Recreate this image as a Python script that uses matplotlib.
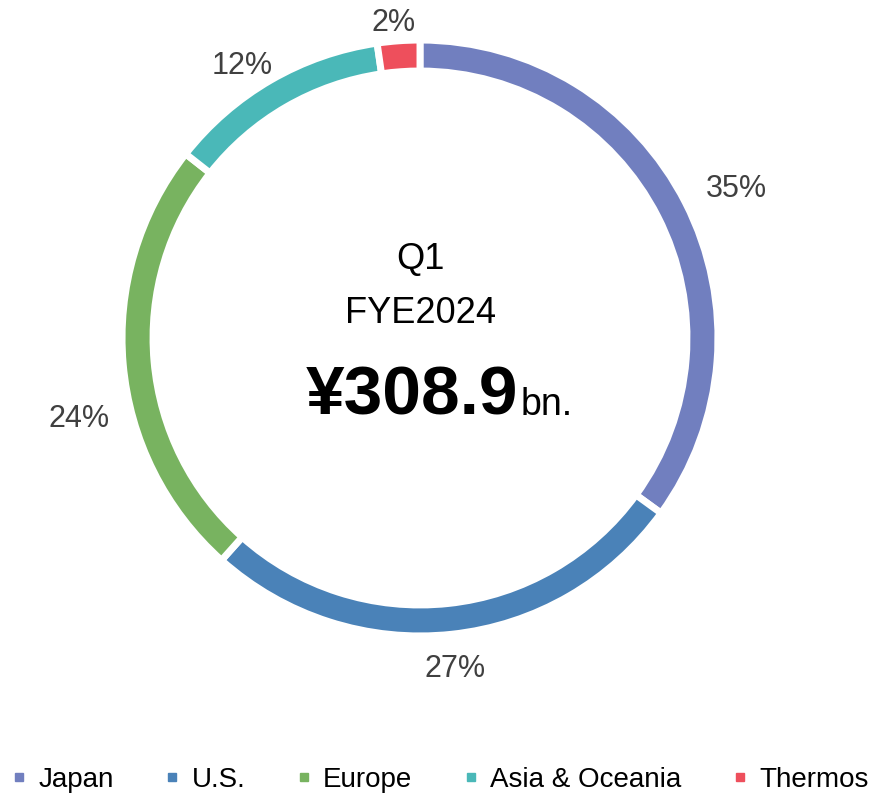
import matplotlib
matplotlib.use('Agg')
import matplotlib.pyplot as plt
import numpy as np
from matplotlib.lines import Line2D

plt.rcParams['font.family'] = ['Liberation Sans', 'DejaVu Sans']

regions = ['Japan', 'U.S.', 'Europe', 'Asia & Oceania', 'Thermos']
shares = [35.0, 26.6, 24.0, 12.1, 2.3]
colors = ['#717FBF', '#4A82B8', '#78B360', '#4AB8B8', '#EE4F5C']
quarter = 'Q1'
fiscal_year = 'FYE2024'
total = '¥308.9'
unit = 'bn.'

# 标签离圆心的距离（半径倍数）和角度微调（度）
label_dist = [1.187, 1.128, 1.188, 1.102, 1.073]
label_nudge = [-1.8, 0, 8.4, 3.1, 0.6]

W, H = 879, 794
cx, cy, R = 420, 338, 295  # 圆心和半径（像素）

fig = plt.figure(figsize=(W / 100, H / 100), dpi=100)
ax = fig.add_axes([0, 0, 1, 1])

wedges, _ = ax.pie(shares,
                   colors=colors,
                   startangle=90,
                   counterclock=False,
                   radius=1.01,
                   wedgeprops=dict(width=0.105, edgecolor='white', linewidth=5))

# 百分比标签放在圆环外侧
total_share = sum(shares)
start = 90.0
for val, d, nudge in zip(shares, label_dist, label_nudge):
    sweep = val / total_share * 360
    mid = np.deg2rad(start - sweep / 2 + nudge)
    start -= sweep
    ax.text(d * np.cos(mid), d * np.sin(mid), f'{round(val):.0f}%',
            ha='center', va='center', fontsize=22, color='#404040')

# 中间文字
ax.text(0, 0.265, quarter, ha='center', va='center', fontsize=26, color='black')
ax.text(0, 0.082, fiscal_year, ha='center', va='center', fontsize=26, color='black')
ax.text(0.332, -0.261, total, ha='right', va='baseline', fontsize=50,
        fontweight='bold', color='black')
ax.text(0.34, -0.261, unit, ha='left', va='baseline', fontsize=27, color='black')

ax.set_xlim(-cx / R, (W - cx) / R)
ax.set_ylim(-(H - cy) / R, cy / R)
ax.set_aspect('auto')
ax.axis('off')

handles = [Line2D([], [], marker='s', linestyle='none', markersize=6,
                  markerfacecolor=c, markeredgecolor=c) for c in colors]
fig.legend(handles, regions, loc='center', bbox_to_anchor=(0.5, 1 - 780 / H),
           ncol=5, frameon=False, fontsize=20, handletextpad=0.4,
           columnspacing=1.8, handlelength=0.6, borderpad=0, borderaxespad=0)

plt.savefig('out.png', dpi=100)
